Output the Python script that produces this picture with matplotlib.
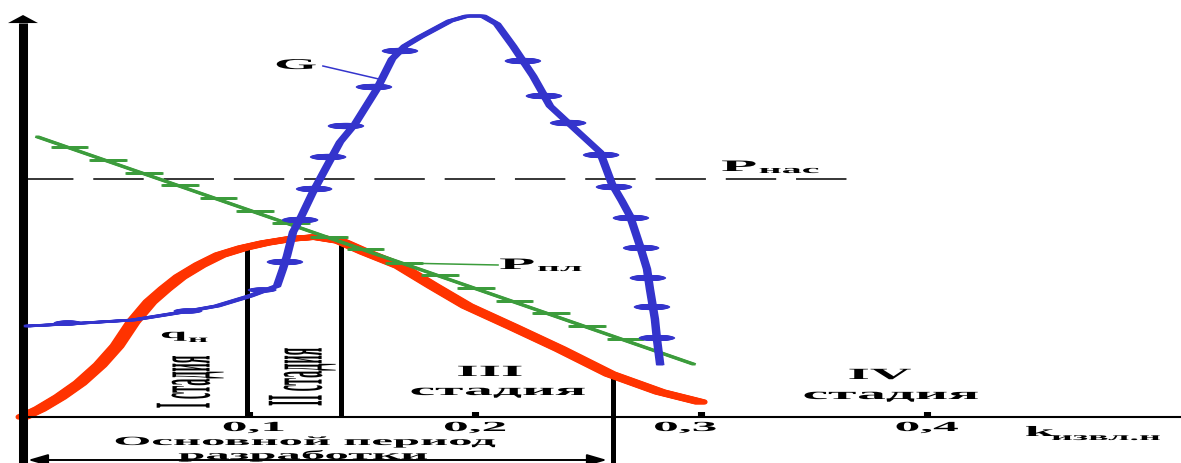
import numpy as np
import matplotlib
matplotlib.use("Agg")
import matplotlib.pyplot as plt
import matplotlib.patheffects as pe
from matplotlib.path import Path
from matplotlib.transforms import Affine2D

# x: recovery factor k, y: relative units (0 on the k axis)
# oil rate q_n
Q_K = [0.0, 0.0075, 0.0164, 0.0252, 0.0341, 0.0416, 0.0487, 0.0562, 0.0628, 0.0695,
       0.0783, 0.0872, 0.0973, 0.1071, 0.1181, 0.1292, 0.1403, 0.1513, 0.1668, 0.1814,
       0.1965, 0.2168, 0.2376, 0.2597, 0.2819, 0.2996]
Q_Y = [0.00, 0.08, 0.20, 0.34, 0.52, 0.71, 0.95, 1.15, 1.28, 1.40,
       1.52, 1.62, 1.69, 1.74, 1.78, 1.80, 1.76, 1.65, 1.51, 1.31,
       1.11, 0.90, 0.68, 0.43, 0.25, 0.15]

# gas factor G
G_K = [0.0022, 0.0195, 0.0487, 0.0708, 0.0858, 0.1004, 0.1124, 0.1150, 0.1168, 0.1195,
       0.1226, 0.1283, 0.1345, 0.1403, 0.1469, 0.1566, 0.1633, 0.1690, 0.1757, 0.1889,
       0.1965, 0.2035, 0.2097, 0.2168, 0.2257, 0.2332, 0.2442, 0.2553, 0.2606, 0.2650,
       0.2686, 0.2730, 0.2761, 0.2774, 0.2796, 0.2805, 0.2819]
G_Y = [0.91, 0.93, 0.97, 1.05, 1.11, 1.21, 1.31, 1.48, 1.61, 1.85,
       1.98, 2.25, 2.51, 2.75, 2.93, 3.28, 3.58, 3.71, 3.80, 3.96,
       4.01, 4.01, 3.93, 3.71, 3.41, 3.11, 2.88, 2.65, 2.33, 2.16,
       2.01, 1.71, 1.48, 1.28, 0.98, 0.78, 0.53]
G_DOT_K = [0.0199, 0.0730, 0.1058]
G_DOT_Y = [0.94, 1.06, 1.27]
G_MARK_K = [0.1159, 0.1226, 0.1288, 0.1350, 0.1429, 0.1553, 0.1668,
            0.2212, 0.2305, 0.2412, 0.2558, 0.2615, 0.2690, 0.2735, 0.2765, 0.2783, 0.2805]
G_MARK_Y = [1.55, 1.97, 2.28, 2.60, 2.91, 3.30, 3.66,
            3.56, 3.21, 2.94, 2.62, 2.30, 1.99, 1.69, 1.39, 1.10, 0.79]

# reservoir pressure P_pl (straight) and its hatch marks
P_K = [0.0066, 0.2965]
P_Y = [2.80, 0.53]
P_TICK_K = [0.019, 0.036, 0.052, 0.068, 0.085, 0.101, 0.117, 0.134,
            0.150, 0.167, 0.183, 0.199, 0.216, 0.232, 0.248, 0.265]
P_TICK_Y = [2.703, 2.570, 2.445, 2.319, 2.186, 2.061, 1.936, 1.803,
            1.677, 1.544, 1.419, 1.294, 1.161, 1.036, 0.911, 0.778]

# saturation pressure P_nas
P_SAT = 2.38
P_SAT_K = [0.0, 0.3726]

# stage boundaries
STAGE_K = [0.099, 0.1405, 0.261]
STAGE_TOP = [1.69, 1.76, 0.43]
STAGE_BOT = [0.0, 0.0, -0.46]

XTICKS = [0.1, 0.2, 0.3, 0.4]
XTICK_LABELS = ["0,1", "0,2", "0,3", "0,4"]

RED = "#ff3300"
BLUE = "#3434cc"
GREEN = "#3c9c3c"
SERIF = "Liberation Serif"
S = 3.7  # horizontal widening of glyphs


class Widen(pe.AbstractPathEffect):
    """Scale a glyph path horizontally about its own centre."""
    def __init__(self, sx=S):
        super().__init__()
        self.sx = sx

    def draw_path(self, renderer, gc, tpath, affine, rgbFace=None):
        box = tpath.get_extents(affine)
        cx = 0.5 * (box.x0 + box.x1)
        t = affine + Affine2D().translate(-cx, 0).scale(self.sx, 1).translate(cx, 0)
        renderer.draw_path(gc, tpath, t, rgbFace)


class Smear(pe.AbstractPathEffect):
    """Repeat a stroke with sideways shifts (px) so steep strokes get wider."""
    def __init__(self, half):
        super().__init__()
        n = max(1, int(round(2 * half))) + 1
        self.dx = np.linspace(-half, half, n)

    def draw_path(self, renderer, gc, tpath, affine, rgbFace=None):
        for d in self.dx:
            renderer.draw_path(gc, tpath, affine + Affine2D().translate(d, 0), rgbFace)


def label(ax, x, y, s, size, sx=S, **kw):
    kw.setdefault("ha", "center")
    kw.setdefault("va", "baseline")
    ax.text(x, y, s, fontsize=size, fontfamily=SERIF, fontweight="bold",
            color="black", path_effects=[Widen(sx)], **kw)


hatch = Path([(-0.4, 0), (0.6, 0)], [Path.MOVETO, Path.LINETO])
th = np.linspace(0, 2 * np.pi, 41)
lens = Path(np.column_stack([np.cos(th), 0.2 * np.sin(th)]))
stub = Path([(0, 0), (0, 1)], [Path.MOVETO, Path.LINETO])

fig = plt.figure(figsize=(11.81, 4.64), dpi=100)
ax = fig.add_axes([0, 0, 1, 1])
ax.set_xlim(-0.01018, 0.51239)
ax.set_ylim(-0.46, 4.18)
ax.set_axis_off()

# axes
ax.plot([0, 0], [-0.46, 3.94], color="black", lw=6.5, solid_capstyle="butt", zorder=5)
ax.annotate("", xy=(0, 4.02), xytext=(0, 3.93),
            arrowprops=dict(arrowstyle="-|>,head_length=0.58,head_width=1.08",
                            color="black", lw=0, shrinkA=0, shrinkB=0, mutation_scale=10))
ax.plot([0, 0.52], [0, 0], color="black", lw=1.5, zorder=5)
ax.plot(XTICKS, [0] * len(XTICKS), ls="none", marker=stub, ms=7.2, mew=1.5,
        color="black", path_effects=[Smear(2.5)], zorder=5)
nudge = {"0,3": -0.007, "0,1": 0.002}
for t, s in zip(XTICKS, XTICK_LABELS):
    label(ax, t + nudge.get(s, 0), -0.14, s, 10)
label(ax, 0.450, -0.19, "k", 10.4)
label(ax, 0.4792, -0.23, "извл.н", 7.4)

# saturation pressure
ax.plot(P_SAT_K, [P_SAT, P_SAT], color="black", lw=1.1, dashes=(33, 13), zorder=2)
label(ax, 0.3168, 2.46, "P", 11.5)
label(ax, 0.3390, 2.44, "нас", 7.8)

# stage boundaries
for k, b, t in zip(STAGE_K, STAGE_BOT, STAGE_TOP):
    ax.plot([k, k], [b, t], color="black", lw=3.6, solid_capstyle="butt", zorder=3)

# main development period
ax.annotate("", xy=(0.2584, -0.43), xytext=(0.0022, -0.43),
            arrowprops=dict(arrowstyle="<|-|>,head_length=1.2,head_width=0.35",
                            color="black", lw=1.4, shrinkA=0, shrinkB=0, mutation_scale=10))
label(ax, 0.1248, -0.28, "Основной период", 9, sx=3.9)
label(ax, 0.1239, -0.42, "разработки", 9, sx=3.9)

# oil rate
ax.plot(Q_K, Q_Y, color=RED, lw=3.6, solid_joinstyle="round", solid_capstyle="round",
        path_effects=[Smear(5)], zorder=4)
label(ax, 0.0668, 0.79, "q", 9.5)
label(ax, 0.0775, 0.75, "н", 6.9)

# reservoir pressure
ax.plot(P_K, P_Y, color=GREEN, lw=1.8, path_effects=[Smear(1.5)], zorder=5)
ax.plot(P_TICK_K, P_TICK_Y, ls="none", marker=hatch, ms=30, mew=1.9,
        color=GREEN, mfc="none", path_effects=[Smear(1.5)], zorder=5)
ax.plot([0.1668, 0.2102], [1.54, 1.52], color=GREEN, lw=1.1, zorder=5)
label(ax, 0.2186, 1.48, "P", 11.5)
label(ax, 0.2375, 1.46, "пл", 7.8)

# gas factor
ax.plot(G_K, G_Y, color=BLUE, lw=1.8, solid_joinstyle="round",
        path_effects=[Smear(3)], zorder=6)
ax.plot(G_DOT_K, G_DOT_Y, ls="none", marker=lens, ms=18, mew=0, color=BLUE,
        path_effects=[Smear(2)], zorder=6)
ax.plot(G_MARK_K, G_MARK_Y, ls="none", marker=lens, ms=22, mew=0, color=BLUE,
        path_effects=[Smear(3)], zorder=6)
ax.plot([0.1327, 0.1593], [3.51, 3.37], color=BLUE, lw=1.1, zorder=6)
label(ax, 0.1208, 3.48, "G", 10.8)

# stage labels
label(ax, 0.0739, 0.35, "I стадия", 10.2, sx=5.7, rotation=90, va="center")
label(ax, 0.1235, 0.40, "II стадия", 10.2, sx=5.7, rotation=90, va="center")
label(ax, 0.2066, 0.41, "III", 11.2)
label(ax, 0.2102, 0.22, "стадия", 11.2)
label(ax, 0.3792, 0.38, "IV", 11.2)
label(ax, 0.3841, 0.18, "стадия", 11.2)

fig.savefig("out.png", dpi=100)
